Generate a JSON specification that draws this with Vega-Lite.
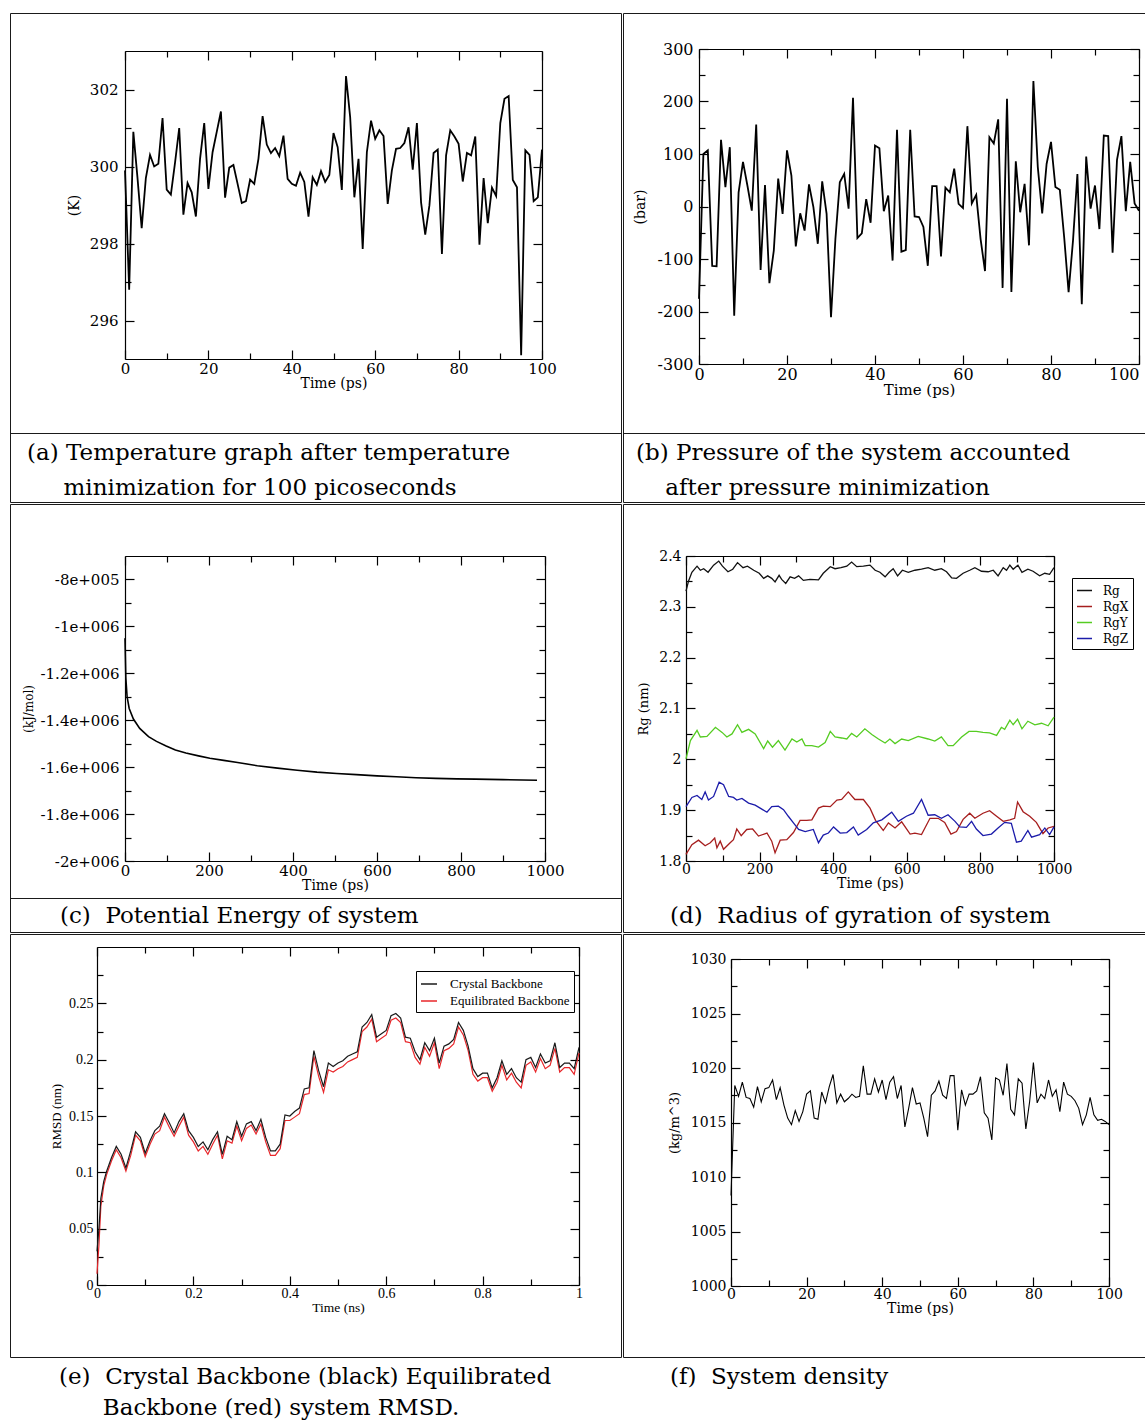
{
"$schema": "https://vega.github.io/schema/vega-lite/v6.json",
"background": "white",
"padding": {"left": 9, "top": 12, "right": 0, "bottom": 0},
"spacing": 0,
"resolve": {"scale": {"color": "independent"}, "legend": {"color": "independent"}},
"config": {
 "view": {"stroke": "#1a1a1a", "strokeWidth": 1},
 "axis": {"grid": false, "domainColor": "black", "domainWidth": 1.2, "tickColor": "black", "tickWidth": 1.2, "labelColor": "black", "titleColor": "black", "labelFont": "DejaVu Serif", "titleFont": "DejaVu Serif", "titleFontWeight": "normal", "labelOverlap": false, "labelFlush": false, "labelBound": false},
 "title": {"font": "DejaVu Serif", "fontSize": 23, "fontWeight": "normal", "color": "black", "anchor": "start", "orient": "bottom"},
 "legend": {"labelColor": "black"}
},
"datasets": {
 "a": [{"t":0,"v":299.9},{"t":1,"v":296.8},{"t":2,"v":300.9},{"t":3,"v":299.7},{"t":4,"v":298.4},{"t":5,"v":299.7},{"t":6,"v":300.3},{"t":7,"v":300.0},{"t":8,"v":300.07},{"t":9,"v":301.26},{"t":10,"v":299.4},{"t":11,"v":299.27},{"t":12,"v":300.1},{"t":13,"v":301.0},{"t":14,"v":298.75},{"t":15,"v":299.57},{"t":16,"v":299.33},{"t":17,"v":298.7},{"t":18,"v":300.2},{"t":19,"v":301.13},{"t":20,"v":299.42},{"t":21,"v":300.37},{"t":22,"v":300.9},{"t":23,"v":301.43},{"t":24,"v":299.19},{"t":25,"v":299.97},{"t":26,"v":300.04},{"t":27,"v":299.55},{"t":28,"v":299.05},{"t":29,"v":299.1},{"t":30,"v":299.66},{"t":31,"v":299.55},{"t":32,"v":300.2},{"t":33,"v":301.31},{"t":34,"v":300.57},{"t":35,"v":300.35},{"t":36,"v":300.48},{"t":37,"v":300.27},{"t":38,"v":300.8},{"t":39,"v":299.68},{"t":40,"v":299.55},{"t":41,"v":299.5},{"t":42,"v":299.84},{"t":43,"v":299.6},{"t":44,"v":298.7},{"t":45,"v":299.72},{"t":46,"v":299.52},{"t":47,"v":299.88},{"t":48,"v":299.6},{"t":49,"v":299.78},{"t":50,"v":300.87},{"t":51,"v":300.5},{"t":52,"v":299.39},{"t":53,"v":302.35},{"t":54,"v":301.28},{"t":55,"v":299.2},{"t":56,"v":300.2},{"t":57,"v":297.86},{"t":58,"v":300.37},{"t":59,"v":301.19},{"t":60,"v":300.72},{"t":61,"v":300.94},{"t":62,"v":300.79},{"t":63,"v":299.03},{"t":64,"v":299.9},{"t":65,"v":300.46},{"t":66,"v":300.48},{"t":67,"v":300.61},{"t":68,"v":301.02},{"t":69,"v":299.92},{"t":70,"v":301.13},{"t":71,"v":299.07},{"t":72,"v":298.23},{"t":73,"v":298.99},{"t":74,"v":300.35},{"t":75,"v":300.44},{"t":76,"v":297.73},{"t":77,"v":300.29},{"t":78,"v":300.94},{"t":79,"v":300.78},{"t":80,"v":300.59},{"t":81,"v":299.61},{"t":82,"v":300.35},{"t":83,"v":300.29},{"t":84,"v":300.78},{"t":85,"v":297.97},{"t":86,"v":299.7},{"t":87,"v":298.53},{"t":88,"v":299.45},{"t":89,"v":299.23},{"t":90,"v":301.13},{"t":91,"v":301.76},{"t":92,"v":301.83},{"t":93,"v":299.65},{"t":94,"v":299.46},{"t":95,"v":295.1},{"t":96,"v":300.42},{"t":97,"v":300.3},{"t":98,"v":299.1},{"t":99,"v":299.2},{"t":100,"v":300.44}],
 "b": [{"t":0,"v":-176},{"t":1,"v":100},{"t":2,"v":107},{"t":3,"v":-113},{"t":4,"v":-114},{"t":5,"v":127},{"t":6,"v":37},{"t":7,"v":113},{"t":8,"v":-208},{"t":9,"v":27},{"t":10,"v":85},{"t":11,"v":40},{"t":12,"v":-8},{"t":13,"v":156},{"t":14,"v":-121},{"t":15,"v":41},{"t":16,"v":-146},{"t":17,"v":-84},{"t":18,"v":53},{"t":19,"v":-14},{"t":20,"v":107},{"t":21,"v":59},{"t":22,"v":-76},{"t":23,"v":-13},{"t":24,"v":-46},{"t":25,"v":42},{"t":26,"v":-1},{"t":27,"v":-71},{"t":28,"v":48},{"t":29,"v":-14},{"t":30,"v":-211},{"t":31,"v":-62},{"t":32,"v":46},{"t":33,"v":62},{"t":34,"v":-4},{"t":35,"v":207},{"t":36,"v":-60},{"t":37,"v":-51},{"t":38,"v":14},{"t":39,"v":-31},{"t":40,"v":116},{"t":41,"v":111},{"t":42,"v":-9},{"t":43,"v":21},{"t":44,"v":-103},{"t":45,"v":146},{"t":46,"v":-86},{"t":47,"v":-83},{"t":48,"v":146},{"t":49,"v":-19},{"t":50,"v":-20},{"t":51,"v":-39},{"t":52,"v":-113},{"t":53,"v":39},{"t":54,"v":39},{"t":55,"v":-95},{"t":56,"v":36},{"t":57,"v":27},{"t":58,"v":72},{"t":59,"v":5},{"t":60,"v":-3},{"t":61,"v":153},{"t":62,"v":6},{"t":63,"v":22},{"t":64,"v":-62},{"t":65,"v":-123},{"t":66,"v":132},{"t":67,"v":120},{"t":68,"v":166},{"t":69,"v":-155},{"t":70,"v":205},{"t":71,"v":-163},{"t":72,"v":86},{"t":73,"v":-11},{"t":74,"v":43},{"t":75,"v":-74},{"t":76,"v":239},{"t":77,"v":75},{"t":78,"v":-13},{"t":79,"v":81},{"t":80,"v":123},{"t":81,"v":37},{"t":82,"v":32},{"t":83,"v":-59},{"t":84,"v":-163},{"t":85,"v":-65},{"t":86,"v":62},{"t":87,"v":-186},{"t":88,"v":95},{"t":89,"v":-4},{"t":90,"v":40},{"t":91,"v":-43},{"t":92,"v":135},{"t":93,"v":134},{"t":94,"v":-88},{"t":95,"v":89},{"t":96,"v":134},{"t":97,"v":-9},{"t":98,"v":85},{"t":99,"v":6},{"t":100,"v":-8}],
 "c": [{"t":0,"v":-1050000},{"t":2,"v":-1220000},{"t":5,"v":-1300000},{"t":10,"v":-1350000},{"t":20,"v":-1395000},{"t":35,"v":-1435000},{"t":56,"v":-1470000},{"t":75,"v":-1490000},{"t":98,"v":-1510000},{"t":120,"v":-1527000},{"t":145,"v":-1540000},{"t":175,"v":-1552000},{"t":202,"v":-1562000},{"t":235,"v":-1571000},{"t":268,"v":-1580000},{"t":315,"v":-1594000},{"t":363,"v":-1604000},{"t":410,"v":-1613000},{"t":457,"v":-1621000},{"t":504,"v":-1627000},{"t":551,"v":-1632000},{"t":600,"v":-1637000},{"t":646,"v":-1641000},{"t":693,"v":-1645000},{"t":740,"v":-1648000},{"t":790,"v":-1650000},{"t":835,"v":-1651000},{"t":900,"v":-1653000},{"t":981,"v":-1656000}],
 "d": [
  {"s":"Rg","t":0,"v":2.331},{"s":"Rg","t":7,"v":2.351},{"s":"Rg","t":16,"v":2.368},{"s":"Rg","t":30,"v":2.38},{"s":"Rg","t":39,"v":2.372},{"s":"Rg","t":48,"v":2.375},{"s":"Rg","t":60,"v":2.368},{"s":"Rg","t":75,"v":2.382},{"s":"Rg","t":89,"v":2.39},{"s":"Rg","t":99,"v":2.38},{"s":"Rg","t":114,"v":2.369},{"s":"Rg","t":127,"v":2.374},{"s":"Rg","t":140,"v":2.387},{"s":"Rg","t":155,"v":2.377},{"s":"Rg","t":167,"v":2.38},{"s":"Rg","t":184,"v":2.372},{"s":"Rg","t":199,"v":2.366},{"s":"Rg","t":211,"v":2.356},{"s":"Rg","t":222,"v":2.361},{"s":"Rg","t":233,"v":2.356},{"s":"Rg","t":242,"v":2.349},{"s":"Rg","t":253,"v":2.362},{"s":"Rg","t":260,"v":2.354},{"s":"Rg","t":271,"v":2.346},{"s":"Rg","t":283,"v":2.359},{"s":"Rg","t":295,"v":2.356},{"s":"Rg","t":306,"v":2.361},{"s":"Rg","t":319,"v":2.352},{"s":"Rg","t":337,"v":2.354},{"s":"Rg","t":360,"v":2.353},{"s":"Rg","t":373,"v":2.366},{"s":"Rg","t":392,"v":2.379},{"s":"Rg","t":405,"v":2.375},{"s":"Rg","t":421,"v":2.377},{"s":"Rg","t":437,"v":2.38},{"s":"Rg","t":450,"v":2.388},{"s":"Rg","t":464,"v":2.379},{"s":"Rg","t":482,"v":2.38},{"s":"Rg","t":500,"v":2.382},{"s":"Rg","t":514,"v":2.372},{"s":"Rg","t":527,"v":2.368},{"s":"Rg","t":541,"v":2.359},{"s":"Rg","t":552,"v":2.368},{"s":"Rg","t":563,"v":2.375},{"s":"Rg","t":575,"v":2.361},{"s":"Rg","t":588,"v":2.372},{"s":"Rg","t":604,"v":2.368},{"s":"Rg","t":622,"v":2.372},{"s":"Rg","t":640,"v":2.374},{"s":"Rg","t":658,"v":2.377},{"s":"Rg","t":676,"v":2.372},{"s":"Rg","t":694,"v":2.375},{"s":"Rg","t":708,"v":2.369},{"s":"Rg","t":722,"v":2.357},{"s":"Rg","t":735,"v":2.356},{"s":"Rg","t":753,"v":2.366},{"s":"Rg","t":771,"v":2.372},{"s":"Rg","t":785,"v":2.377},{"s":"Rg","t":803,"v":2.37},{"s":"Rg","t":821,"v":2.369},{"s":"Rg","t":835,"v":2.372},{"s":"Rg","t":848,"v":2.361},{"s":"Rg","t":862,"v":2.377},{"s":"Rg","t":871,"v":2.372},{"s":"Rg","t":880,"v":2.382},{"s":"Rg","t":889,"v":2.374},{"s":"Rg","t":902,"v":2.382},{"s":"Rg","t":913,"v":2.368},{"s":"Rg","t":929,"v":2.374},{"s":"Rg","t":943,"v":2.37},{"s":"Rg","t":961,"v":2.361},{"s":"Rg","t":975,"v":2.366},{"s":"Rg","t":988,"v":2.364},{"s":"Rg","t":1000,"v":2.377},
  {"s":"RgX","t":0,"v":1.813},{"s":"RgX","t":16,"v":1.832},{"s":"RgX","t":34,"v":1.841},{"s":"RgX","t":52,"v":1.83},{"s":"RgX","t":66,"v":1.836},{"s":"RgX","t":78,"v":1.845},{"s":"RgX","t":84,"v":1.826},{"s":"RgX","t":93,"v":1.839},{"s":"RgX","t":102,"v":1.823},{"s":"RgX","t":120,"v":1.836},{"s":"RgX","t":129,"v":1.842},{"s":"RgX","t":138,"v":1.863},{"s":"RgX","t":150,"v":1.85},{"s":"RgX","t":165,"v":1.862},{"s":"RgX","t":181,"v":1.863},{"s":"RgX","t":197,"v":1.849},{"s":"RgX","t":220,"v":1.855},{"s":"RgX","t":233,"v":1.839},{"s":"RgX","t":242,"v":1.816},{"s":"RgX","t":256,"v":1.841},{"s":"RgX","t":274,"v":1.842},{"s":"RgX","t":292,"v":1.856},{"s":"RgX","t":310,"v":1.88},{"s":"RgX","t":328,"v":1.88},{"s":"RgX","t":342,"v":1.881},{"s":"RgX","t":360,"v":1.904},{"s":"RgX","t":373,"v":1.908},{"s":"RgX","t":392,"v":1.907},{"s":"RgX","t":410,"v":1.92},{"s":"RgX","t":423,"v":1.921},{"s":"RgX","t":441,"v":1.936},{"s":"RgX","t":459,"v":1.921},{"s":"RgX","t":482,"v":1.921},{"s":"RgX","t":500,"v":1.904},{"s":"RgX","t":515,"v":1.88},{"s":"RgX","t":536,"v":1.86},{"s":"RgX","t":550,"v":1.875},{"s":"RgX","t":568,"v":1.865},{"s":"RgX","t":586,"v":1.877},{"s":"RgX","t":609,"v":1.853},{"s":"RgX","t":622,"v":1.855},{"s":"RgX","t":640,"v":1.852},{"s":"RgX","t":663,"v":1.884},{"s":"RgX","t":685,"v":1.884},{"s":"RgX","t":703,"v":1.876},{"s":"RgX","t":720,"v":1.853},{"s":"RgX","t":735,"v":1.858},{"s":"RgX","t":753,"v":1.882},{"s":"RgX","t":771,"v":1.894},{"s":"RgX","t":785,"v":1.884},{"s":"RgX","t":807,"v":1.894},{"s":"RgX","t":825,"v":1.899},{"s":"RgX","t":844,"v":1.888},{"s":"RgX","t":862,"v":1.878},{"s":"RgX","t":880,"v":1.881},{"s":"RgX","t":893,"v":1.884},{"s":"RgX","t":901,"v":1.916},{"s":"RgX","t":916,"v":1.897},{"s":"RgX","t":934,"v":1.888},{"s":"RgX","t":952,"v":1.876},{"s":"RgX","t":970,"v":1.854},{"s":"RgX","t":984,"v":1.865},{"s":"RgX","t":1000,"v":1.868},
  {"s":"RgY","t":0,"v":2.001},{"s":"RgY","t":12,"v":2.037},{"s":"RgY","t":30,"v":2.057},{"s":"RgY","t":39,"v":2.044},{"s":"RgY","t":57,"v":2.045},{"s":"RgY","t":80,"v":2.063},{"s":"RgY","t":98,"v":2.053},{"s":"RgY","t":111,"v":2.044},{"s":"RgY","t":125,"v":2.05},{"s":"RgY","t":140,"v":2.068},{"s":"RgY","t":152,"v":2.053},{"s":"RgY","t":170,"v":2.059},{"s":"RgY","t":188,"v":2.05},{"s":"RgY","t":211,"v":2.021},{"s":"RgY","t":222,"v":2.036},{"s":"RgY","t":235,"v":2.024},{"s":"RgY","t":251,"v":2.037},{"s":"RgY","t":269,"v":2.018},{"s":"RgY","t":288,"v":2.04},{"s":"RgY","t":301,"v":2.034},{"s":"RgY","t":315,"v":2.04},{"s":"RgY","t":324,"v":2.027},{"s":"RgY","t":342,"v":2.027},{"s":"RgY","t":360,"v":2.024},{"s":"RgY","t":378,"v":2.033},{"s":"RgY","t":392,"v":2.055},{"s":"RgY","t":405,"v":2.044},{"s":"RgY","t":423,"v":2.042},{"s":"RgY","t":437,"v":2.04},{"s":"RgY","t":450,"v":2.051},{"s":"RgY","t":464,"v":2.044},{"s":"RgY","t":486,"v":2.06},{"s":"RgY","t":505,"v":2.049},{"s":"RgY","t":523,"v":2.04},{"s":"RgY","t":541,"v":2.032},{"s":"RgY","t":554,"v":2.04},{"s":"RgY","t":568,"v":2.031},{"s":"RgY","t":586,"v":2.04},{"s":"RgY","t":604,"v":2.037},{"s":"RgY","t":631,"v":2.045},{"s":"RgY","t":658,"v":2.04},{"s":"RgY","t":676,"v":2.036},{"s":"RgY","t":694,"v":2.044},{"s":"RgY","t":712,"v":2.027},{"s":"RgY","t":726,"v":2.027},{"s":"RgY","t":749,"v":2.044},{"s":"RgY","t":769,"v":2.055},{"s":"RgY","t":789,"v":2.055},{"s":"RgY","t":807,"v":2.053},{"s":"RgY","t":825,"v":2.052},{"s":"RgY","t":844,"v":2.047},{"s":"RgY","t":857,"v":2.063},{"s":"RgY","t":866,"v":2.059},{"s":"RgY","t":880,"v":2.077},{"s":"RgY","t":889,"v":2.068},{"s":"RgY","t":901,"v":2.079},{"s":"RgY","t":913,"v":2.06},{"s":"RgY","t":929,"v":2.075},{"s":"RgY","t":948,"v":2.068},{"s":"RgY","t":966,"v":2.071},{"s":"RgY","t":984,"v":2.066},{"s":"RgY","t":1000,"v":2.083},
  {"s":"RgZ","t":0,"v":1.907},{"s":"RgZ","t":16,"v":1.925},{"s":"RgZ","t":30,"v":1.929},{"s":"RgZ","t":43,"v":1.921},{"s":"RgZ","t":52,"v":1.936},{"s":"RgZ","t":61,"v":1.92},{"s":"RgZ","t":75,"v":1.927},{"s":"RgZ","t":90,"v":1.955},{"s":"RgZ","t":102,"v":1.95},{"s":"RgZ","t":116,"v":1.927},{"s":"RgZ","t":129,"v":1.925},{"s":"RgZ","t":138,"v":1.92},{"s":"RgZ","t":152,"v":1.923},{"s":"RgZ","t":170,"v":1.914},{"s":"RgZ","t":188,"v":1.91},{"s":"RgZ","t":206,"v":1.902},{"s":"RgZ","t":220,"v":1.896},{"s":"RgZ","t":233,"v":1.907},{"s":"RgZ","t":251,"v":1.908},{"s":"RgZ","t":265,"v":1.901},{"s":"RgZ","t":278,"v":1.888},{"s":"RgZ","t":292,"v":1.875},{"s":"RgZ","t":306,"v":1.862},{"s":"RgZ","t":324,"v":1.858},{"s":"RgZ","t":346,"v":1.862},{"s":"RgZ","t":360,"v":1.836},{"s":"RgZ","t":373,"v":1.851},{"s":"RgZ","t":387,"v":1.855},{"s":"RgZ","t":401,"v":1.867},{"s":"RgZ","t":419,"v":1.855},{"s":"RgZ","t":437,"v":1.856},{"s":"RgZ","t":455,"v":1.867},{"s":"RgZ","t":468,"v":1.851},{"s":"RgZ","t":491,"v":1.862},{"s":"RgZ","t":509,"v":1.875},{"s":"RgZ","t":532,"v":1.881},{"s":"RgZ","t":559,"v":1.896},{"s":"RgZ","t":577,"v":1.878},{"s":"RgZ","t":599,"v":1.888},{"s":"RgZ","t":618,"v":1.894},{"s":"RgZ","t":640,"v":1.921},{"s":"RgZ","t":658,"v":1.89},{"s":"RgZ","t":676,"v":1.891},{"s":"RgZ","t":694,"v":1.884},{"s":"RgZ","t":712,"v":1.891},{"s":"RgZ","t":731,"v":1.878},{"s":"RgZ","t":744,"v":1.867},{"s":"RgZ","t":762,"v":1.866},{"s":"RgZ","t":776,"v":1.878},{"s":"RgZ","t":789,"v":1.863},{"s":"RgZ","t":807,"v":1.85},{"s":"RgZ","t":830,"v":1.853},{"s":"RgZ","t":848,"v":1.865},{"s":"RgZ","t":866,"v":1.876},{"s":"RgZ","t":884,"v":1.874},{"s":"RgZ","t":898,"v":1.837},{"s":"RgZ","t":911,"v":1.839},{"s":"RgZ","t":929,"v":1.86},{"s":"RgZ","t":939,"v":1.847},{"s":"RgZ","t":961,"v":1.852},{"s":"RgZ","t":975,"v":1.865},{"s":"RgZ","t":988,"v":1.852},{"s":"RgZ","t":1000,"v":1.867}
 ],
 "e": [
  {"s":"Equilibrated Backbone","t":0,"v":0.01},{"s":"Equilibrated Backbone","t":0.004,"v":0.035},{"s":"Equilibrated Backbone","t":0.008,"v":0.07},{"s":"Equilibrated Backbone","t":0.014,"v":0.088},{"s":"Equilibrated Backbone","t":0.02,"v":0.098},{"s":"Equilibrated Backbone","t":0.03,"v":0.11},{"s":"Equilibrated Backbone","t":0.04,"v":0.12},{"s":"Equilibrated Backbone","t":0.05,"v":0.113},{"s":"Equilibrated Backbone","t":0.06,"v":0.101},{"s":"Equilibrated Backbone","t":0.07,"v":0.115},{"s":"Equilibrated Backbone","t":0.08,"v":0.133},{"s":"Equilibrated Backbone","t":0.09,"v":0.128},{"s":"Equilibrated Backbone","t":0.1,"v":0.114},{"s":"Equilibrated Backbone","t":0.11,"v":0.125},{"s":"Equilibrated Backbone","t":0.12,"v":0.134},{"s":"Equilibrated Backbone","t":0.13,"v":0.137},{"s":"Equilibrated Backbone","t":0.14,"v":0.149},{"s":"Equilibrated Backbone","t":0.15,"v":0.14},{"s":"Equilibrated Backbone","t":0.16,"v":0.132},{"s":"Equilibrated Backbone","t":0.17,"v":0.141},{"s":"Equilibrated Backbone","t":0.18,"v":0.149},{"s":"Equilibrated Backbone","t":0.19,"v":0.133},{"s":"Equilibrated Backbone","t":0.2,"v":0.127},{"s":"Equilibrated Backbone","t":0.21,"v":0.119},{"s":"Equilibrated Backbone","t":0.22,"v":0.123},{"s":"Equilibrated Backbone","t":0.23,"v":0.116},{"s":"Equilibrated Backbone","t":0.24,"v":0.125},{"s":"Equilibrated Backbone","t":0.25,"v":0.133},{"s":"Equilibrated Backbone","t":0.26,"v":0.112},{"s":"Equilibrated Backbone","t":0.27,"v":0.128},{"s":"Equilibrated Backbone","t":0.28,"v":0.126},{"s":"Equilibrated Backbone","t":0.29,"v":0.141},{"s":"Equilibrated Backbone","t":0.3,"v":0.128},{"s":"Equilibrated Backbone","t":0.31,"v":0.139},{"s":"Equilibrated Backbone","t":0.32,"v":0.142},{"s":"Equilibrated Backbone","t":0.33,"v":0.134},{"s":"Equilibrated Backbone","t":0.34,"v":0.143},{"s":"Equilibrated Backbone","t":0.35,"v":0.127},{"s":"Equilibrated Backbone","t":0.36,"v":0.115},{"s":"Equilibrated Backbone","t":0.37,"v":0.115},{"s":"Equilibrated Backbone","t":0.38,"v":0.121},{"s":"Equilibrated Backbone","t":0.39,"v":0.146},{"s":"Equilibrated Backbone","t":0.4,"v":0.146},{"s":"Equilibrated Backbone","t":0.41,"v":0.149},{"s":"Equilibrated Backbone","t":0.42,"v":0.152},{"s":"Equilibrated Backbone","t":0.43,"v":0.169},{"s":"Equilibrated Backbone","t":0.44,"v":0.17},{"s":"Equilibrated Backbone","t":0.45,"v":0.203},{"s":"Equilibrated Backbone","t":0.46,"v":0.185},{"s":"Equilibrated Backbone","t":0.47,"v":0.171},{"s":"Equilibrated Backbone","t":0.48,"v":0.191},{"s":"Equilibrated Backbone","t":0.49,"v":0.189},{"s":"Equilibrated Backbone","t":0.5,"v":0.192},{"s":"Equilibrated Backbone","t":0.51,"v":0.194},{"s":"Equilibrated Backbone","t":0.52,"v":0.198},{"s":"Equilibrated Backbone","t":0.53,"v":0.2},{"s":"Equilibrated Backbone","t":0.54,"v":0.202},{"s":"Equilibrated Backbone","t":0.55,"v":0.225},{"s":"Equilibrated Backbone","t":0.56,"v":0.229},{"s":"Equilibrated Backbone","t":0.57,"v":0.236},{"s":"Equilibrated Backbone","t":0.58,"v":0.216},{"s":"Equilibrated Backbone","t":0.59,"v":0.219},{"s":"Equilibrated Backbone","t":0.6,"v":0.222},{"s":"Equilibrated Backbone","t":0.61,"v":0.235},{"s":"Equilibrated Backbone","t":0.62,"v":0.237},{"s":"Equilibrated Backbone","t":0.63,"v":0.233},{"s":"Equilibrated Backbone","t":0.64,"v":0.216},{"s":"Equilibrated Backbone","t":0.65,"v":0.215},{"s":"Equilibrated Backbone","t":0.66,"v":0.202},{"s":"Equilibrated Backbone","t":0.67,"v":0.196},{"s":"Equilibrated Backbone","t":0.68,"v":0.211},{"s":"Equilibrated Backbone","t":0.69,"v":0.203},{"s":"Equilibrated Backbone","t":0.7,"v":0.215},{"s":"Equilibrated Backbone","t":0.71,"v":0.192},{"s":"Equilibrated Backbone","t":0.72,"v":0.208},{"s":"Equilibrated Backbone","t":0.73,"v":0.21},{"s":"Equilibrated Backbone","t":0.74,"v":0.214},{"s":"Equilibrated Backbone","t":0.75,"v":0.229},{"s":"Equilibrated Backbone","t":0.76,"v":0.222},{"s":"Equilibrated Backbone","t":0.77,"v":0.208},{"s":"Equilibrated Backbone","t":0.78,"v":0.187},{"s":"Equilibrated Backbone","t":0.79,"v":0.181},{"s":"Equilibrated Backbone","t":0.8,"v":0.184},{"s":"Equilibrated Backbone","t":0.81,"v":0.184},{"s":"Equilibrated Backbone","t":0.82,"v":0.172},{"s":"Equilibrated Backbone","t":0.83,"v":0.18},{"s":"Equilibrated Backbone","t":0.84,"v":0.195},{"s":"Equilibrated Backbone","t":0.85,"v":0.182},{"s":"Equilibrated Backbone","t":0.86,"v":0.188},{"s":"Equilibrated Backbone","t":0.87,"v":0.18},{"s":"Equilibrated Backbone","t":0.88,"v":0.175},{"s":"Equilibrated Backbone","t":0.89,"v":0.195},{"s":"Equilibrated Backbone","t":0.9,"v":0.198},{"s":"Equilibrated Backbone","t":0.91,"v":0.189},{"s":"Equilibrated Backbone","t":0.92,"v":0.201},{"s":"Equilibrated Backbone","t":0.93,"v":0.192},{"s":"Equilibrated Backbone","t":0.94,"v":0.195},{"s":"Equilibrated Backbone","t":0.95,"v":0.21},{"s":"Equilibrated Backbone","t":0.96,"v":0.189},{"s":"Equilibrated Backbone","t":0.97,"v":0.193},{"s":"Equilibrated Backbone","t":0.98,"v":0.193},{"s":"Equilibrated Backbone","t":0.99,"v":0.187},{"s":"Equilibrated Backbone","t":1.0,"v":0.206},
  {"s":"Crystal Backbone","t":0,"v":0.03},{"s":"Crystal Backbone","t":0.004,"v":0.05},{"s":"Crystal Backbone","t":0.008,"v":0.077},{"s":"Crystal Backbone","t":0.014,"v":0.092},{"s":"Crystal Backbone","t":0.02,"v":0.101},{"s":"Crystal Backbone","t":0.03,"v":0.113},{"s":"Crystal Backbone","t":0.04,"v":0.123},{"s":"Crystal Backbone","t":0.05,"v":0.116},{"s":"Crystal Backbone","t":0.06,"v":0.104},{"s":"Crystal Backbone","t":0.07,"v":0.119},{"s":"Crystal Backbone","t":0.08,"v":0.136},{"s":"Crystal Backbone","t":0.09,"v":0.131},{"s":"Crystal Backbone","t":0.1,"v":0.117},{"s":"Crystal Backbone","t":0.11,"v":0.128},{"s":"Crystal Backbone","t":0.12,"v":0.137},{"s":"Crystal Backbone","t":0.13,"v":0.141},{"s":"Crystal Backbone","t":0.14,"v":0.152},{"s":"Crystal Backbone","t":0.15,"v":0.144},{"s":"Crystal Backbone","t":0.16,"v":0.135},{"s":"Crystal Backbone","t":0.17,"v":0.145},{"s":"Crystal Backbone","t":0.18,"v":0.152},{"s":"Crystal Backbone","t":0.19,"v":0.137},{"s":"Crystal Backbone","t":0.2,"v":0.131},{"s":"Crystal Backbone","t":0.21,"v":0.123},{"s":"Crystal Backbone","t":0.22,"v":0.127},{"s":"Crystal Backbone","t":0.23,"v":0.12},{"s":"Crystal Backbone","t":0.24,"v":0.129},{"s":"Crystal Backbone","t":0.25,"v":0.136},{"s":"Crystal Backbone","t":0.26,"v":0.116},{"s":"Crystal Backbone","t":0.27,"v":0.132},{"s":"Crystal Backbone","t":0.28,"v":0.129},{"s":"Crystal Backbone","t":0.29,"v":0.145},{"s":"Crystal Backbone","t":0.3,"v":0.132},{"s":"Crystal Backbone","t":0.31,"v":0.143},{"s":"Crystal Backbone","t":0.32,"v":0.145},{"s":"Crystal Backbone","t":0.33,"v":0.137},{"s":"Crystal Backbone","t":0.34,"v":0.147},{"s":"Crystal Backbone","t":0.35,"v":0.131},{"s":"Crystal Backbone","t":0.36,"v":0.119},{"s":"Crystal Backbone","t":0.37,"v":0.119},{"s":"Crystal Backbone","t":0.38,"v":0.125},{"s":"Crystal Backbone","t":0.39,"v":0.151},{"s":"Crystal Backbone","t":0.4,"v":0.15},{"s":"Crystal Backbone","t":0.41,"v":0.154},{"s":"Crystal Backbone","t":0.42,"v":0.157},{"s":"Crystal Backbone","t":0.43,"v":0.174},{"s":"Crystal Backbone","t":0.44,"v":0.175},{"s":"Crystal Backbone","t":0.45,"v":0.208},{"s":"Crystal Backbone","t":0.46,"v":0.19},{"s":"Crystal Backbone","t":0.47,"v":0.176},{"s":"Crystal Backbone","t":0.48,"v":0.197},{"s":"Crystal Backbone","t":0.49,"v":0.194},{"s":"Crystal Backbone","t":0.5,"v":0.197},{"s":"Crystal Backbone","t":0.51,"v":0.199},{"s":"Crystal Backbone","t":0.52,"v":0.203},{"s":"Crystal Backbone","t":0.53,"v":0.205},{"s":"Crystal Backbone","t":0.54,"v":0.207},{"s":"Crystal Backbone","t":0.55,"v":0.229},{"s":"Crystal Backbone","t":0.56,"v":0.233},{"s":"Crystal Backbone","t":0.57,"v":0.24},{"s":"Crystal Backbone","t":0.58,"v":0.22},{"s":"Crystal Backbone","t":0.59,"v":0.223},{"s":"Crystal Backbone","t":0.6,"v":0.226},{"s":"Crystal Backbone","t":0.61,"v":0.239},{"s":"Crystal Backbone","t":0.62,"v":0.241},{"s":"Crystal Backbone","t":0.63,"v":0.237},{"s":"Crystal Backbone","t":0.64,"v":0.22},{"s":"Crystal Backbone","t":0.65,"v":0.219},{"s":"Crystal Backbone","t":0.66,"v":0.207},{"s":"Crystal Backbone","t":0.67,"v":0.2},{"s":"Crystal Backbone","t":0.68,"v":0.215},{"s":"Crystal Backbone","t":0.69,"v":0.208},{"s":"Crystal Backbone","t":0.7,"v":0.219},{"s":"Crystal Backbone","t":0.71,"v":0.197},{"s":"Crystal Backbone","t":0.72,"v":0.212},{"s":"Crystal Backbone","t":0.73,"v":0.214},{"s":"Crystal Backbone","t":0.74,"v":0.218},{"s":"Crystal Backbone","t":0.75,"v":0.233},{"s":"Crystal Backbone","t":0.76,"v":0.226},{"s":"Crystal Backbone","t":0.77,"v":0.212},{"s":"Crystal Backbone","t":0.78,"v":0.192},{"s":"Crystal Backbone","t":0.79,"v":0.185},{"s":"Crystal Backbone","t":0.8,"v":0.188},{"s":"Crystal Backbone","t":0.81,"v":0.188},{"s":"Crystal Backbone","t":0.82,"v":0.175},{"s":"Crystal Backbone","t":0.83,"v":0.184},{"s":"Crystal Backbone","t":0.84,"v":0.199},{"s":"Crystal Backbone","t":0.85,"v":0.187},{"s":"Crystal Backbone","t":0.86,"v":0.192},{"s":"Crystal Backbone","t":0.87,"v":0.184},{"s":"Crystal Backbone","t":0.88,"v":0.18},{"s":"Crystal Backbone","t":0.89,"v":0.2},{"s":"Crystal Backbone","t":0.9,"v":0.202},{"s":"Crystal Backbone","t":0.91,"v":0.193},{"s":"Crystal Backbone","t":0.92,"v":0.205},{"s":"Crystal Backbone","t":0.93,"v":0.197},{"s":"Crystal Backbone","t":0.94,"v":0.199},{"s":"Crystal Backbone","t":0.95,"v":0.215},{"s":"Crystal Backbone","t":0.96,"v":0.193},{"s":"Crystal Backbone","t":0.97,"v":0.197},{"s":"Crystal Backbone","t":0.98,"v":0.197},{"s":"Crystal Backbone","t":0.99,"v":0.192},{"s":"Crystal Backbone","t":1.0,"v":0.211}
 ],
 "f": [{"t":0,"v":1008.3},{"t":0.5,"v":1013.4},{"t":1,"v":1018.4},{"t":2,"v":1017.4},{"t":3,"v":1018.7},{"t":4,"v":1017.3},{"t":5,"v":1017.2},{"t":6,"v":1016.4},{"t":7,"v":1018.3},{"t":8,"v":1016.9},{"t":9,"v":1018.1},{"t":10,"v":1018.2},{"t":11,"v":1018.9},{"t":12,"v":1017.1},{"t":13,"v":1018.2},{"t":14,"v":1016.6},{"t":15,"v":1015.4},{"t":16,"v":1014.8},{"t":17,"v":1016.1},{"t":18,"v":1015.1},{"t":19,"v":1016.0},{"t":20,"v":1017.6},{"t":21,"v":1017.9},{"t":22,"v":1015.4},{"t":23,"v":1015.3},{"t":24,"v":1017.8},{"t":25,"v":1016.8},{"t":26,"v":1018.3},{"t":27,"v":1019.4},{"t":28,"v":1016.8},{"t":29,"v":1017.6},{"t":30,"v":1016.9},{"t":31,"v":1017.2},{"t":32,"v":1017.6},{"t":33,"v":1017.3},{"t":34,"v":1017.4},{"t":35,"v":1020.2},{"t":36,"v":1017.6},{"t":37,"v":1017.6},{"t":38,"v":1019.0},{"t":39,"v":1017.8},{"t":40,"v":1018.9},{"t":41,"v":1017.1},{"t":42,"v":1018.7},{"t":43,"v":1019.2},{"t":44,"v":1017.2},{"t":45,"v":1018.4},{"t":46,"v":1014.6},{"t":47,"v":1016.3},{"t":48,"v":1018.2},{"t":49,"v":1016.7},{"t":50,"v":1016.8},{"t":51,"v":1015.4},{"t":52,"v":1013.7},{"t":53,"v":1017.5},{"t":54,"v":1017.9},{"t":55,"v":1018.8},{"t":56,"v":1017.5},{"t":57,"v":1017.2},{"t":58,"v":1019.3},{"t":59,"v":1019.3},{"t":60,"v":1014.3},{"t":61,"v":1018.0},{"t":62,"v":1016.6},{"t":63,"v":1017.6},{"t":64,"v":1017.6},{"t":65,"v":1017.9},{"t":66,"v":1019.2},{"t":67,"v":1015.9},{"t":68,"v":1015.4},{"t":69,"v":1013.4},{"t":70,"v":1019.1},{"t":71,"v":1018.9},{"t":72,"v":1017.5},{"t":73,"v":1020.4},{"t":74,"v":1016.2},{"t":75,"v":1015.7},{"t":76,"v":1019.0},{"t":77,"v":1018.6},{"t":78,"v":1014.4},{"t":79,"v":1016.9},{"t":80,"v":1020.5},{"t":81,"v":1016.8},{"t":82,"v":1017.6},{"t":83,"v":1017.2},{"t":84,"v":1018.9},{"t":85,"v":1017.4},{"t":86,"v":1018.0},{"t":87,"v":1016.0},{"t":88,"v":1018.7},{"t":89,"v":1017.6},{"t":90,"v":1017.4},{"t":91,"v":1017.0},{"t":92,"v":1016.3},{"t":93,"v":1014.8},{"t":94,"v":1015.7},{"t":95,"v":1017.3},{"t":96,"v":1015.7},{"t":97,"v":1015.2},{"t":98,"v":1015.3},{"t":99,"v":1015.1},{"t":100,"v":1014.8}]
},
"vconcat": [
 {"spacing": 0, "resolve": {"scale": {"color": "independent"}, "legend": {"color": "independent"}}, "hconcat": [
  {"width": 611, "height": 489, "data": {"name": "a"},
   "title": {"text": ["(a) Temperature graph after temperature", "\u200b\u00a0\u00a0\u00a0\u00a0\u00a0minimization for 100 picoseconds"], "offset": -60, "dx": 17, "lineHeight": 35},
   "layer": [
    {"mark": {"type": "line", "color": "black", "strokeWidth": 1.8},
     "encoding": {
      "x": {"field": "t", "type": "quantitative", "scale": {"domain": [0, 100], "range": [115, 532], "nice": false, "zero": false}, "axis": {"orient": "bottom", "offset": -143, "values": [0,20,40,60,80,100], "tickSize": -9, "labelPadding": 11, "labelFontSize": 15, "title": "Time (ps)", "titleFontSize": 14, "titlePadding": 0}},
      "y": {"field": "v", "type": "quantitative", "scale": {"domain": [295, 303], "range": [346, 38], "nice": false, "zero": false}, "axis": {"orient": "left", "offset": -115, "values": [296,298,300,302], "tickSize": -9, "labelPadding": 16, "labelFontSize": 15, "title": "(K)", "titleFontSize": 14, "titlePadding": 8}}}},
    {"mark": {"type": "point", "opacity": 0},
     "encoding": {
      "x": {"field": "t", "type": "quantitative", "scale": {"domain": [0, 100], "range": [115, 532], "nice": false, "zero": false}, "axis": {"orient": "top", "offset": -38, "values": [0,20,40,60,80,100], "tickSize": -9, "labels": false, "title": null}},
      "y": {"field": "v", "type": "quantitative", "scale": {"domain": [295, 303], "range": [346, 38], "nice": false, "zero": false}, "axis": {"orient": "right", "offset": -79, "values": [296,298,300,302], "tickSize": -9, "labels": false, "title": null}}}},
    {"mark": {"type": "point", "opacity": 0},
     "encoding": {
      "x": {"field": "t", "type": "quantitative", "scale": {"domain": [0, 100], "range": [115, 532], "nice": false, "zero": false}, "axis": {"orient": "bottom", "offset": -143, "values": [10,30,50,70,90], "tickSize": -6, "labels": false, "domain": false, "title": null}},
      "y": {"field": "v", "type": "quantitative", "scale": {"domain": [295, 303], "range": [346, 38], "nice": false, "zero": false}, "axis": {"orient": "left", "offset": -115, "values": [297,299,301], "tickSize": -6, "labels": false, "domain": false, "title": null}}}},
    {"mark": {"type": "point", "opacity": 0},
     "encoding": {
      "x": {"field": "t", "type": "quantitative", "scale": {"domain": [0, 100], "range": [115, 532], "nice": false, "zero": false}, "axis": {"orient": "top", "offset": -38, "values": [10,30,50,70,90], "tickSize": -6, "labels": false, "domain": false, "title": null}},
      "y": {"field": "v", "type": "quantitative", "scale": {"domain": [295, 303], "range": [346, 38], "nice": false, "zero": false}, "axis": {"orient": "right", "offset": -79, "values": [297,299,301], "tickSize": -6, "labels": false, "domain": false, "title": null}}}},
    {"mark": {"type": "point", "opacity": 0},
     "encoding": {"x": {"datum": 0.5, "type": "quantitative", "scale": {"domain": [0, 1]}, "axis": {"orient": "bottom", "offset": -69, "ticks": false, "labels": false, "title": null, "domainWidth": 1, "domainColor": "#1a1a1a"}}}}
   ],
   "resolve": {"scale": {"x": "independent"}, "axis": {"x": "independent", "y": "independent"}}},
  {"width": 522, "height": 489, "data": {"name": "b"},
   "title": {"text": ["(b) Pressure of the system accounted", "\u200b\u00a0\u00a0\u00a0\u00a0after pressure minimization"], "offset": -60, "dx": 13, "lineHeight": 35},
   "layer": [
    {"mark": {"type": "line", "color": "black", "strokeWidth": 1.8},
     "encoding": {
      "x": {"field": "t", "type": "quantitative", "scale": {"domain": [0, 100], "range": [76, 516], "nice": false, "zero": false}, "axis": {"orient": "bottom", "offset": -138, "values": [0,20,40,60,80,100], "tickSize": -9, "labelPadding": 11, "labelFontSize": 16, "labelAlign": {"condition": {"test": "datum.value == 100", "value": "right"}, "value": "center"}, "title": "Time (ps)", "titleFontSize": 15, "titlePadding": 0}},
      "y": {"field": "v", "type": "quantitative", "scale": {"domain": [-300, 300], "range": [351, 36], "nice": false, "zero": false}, "axis": {"orient": "left", "offset": -76, "values": [-300,-200,-100,0,100,200,300], "labelExpr": "datum.value + ''", "tickSize": -9, "labelPadding": 15, "labelFontSize": 16, "title": "(bar)", "titleFontSize": 14, "titlePadding": 10}}}},
    {"mark": {"type": "point", "opacity": 0},
     "encoding": {
      "x": {"field": "t", "type": "quantitative", "scale": {"domain": [0, 100], "range": [76, 516], "nice": false, "zero": false}, "axis": {"orient": "top", "offset": -36, "values": [0,20,40,60,80,100], "tickSize": -9, "labels": false, "title": null}},
      "y": {"field": "v", "type": "quantitative", "scale": {"domain": [-300, 300], "range": [351, 36], "nice": false, "zero": false}, "axis": {"orient": "right", "offset": -6, "values": [-300,-200,-100,0,100,200,300], "tickSize": -9, "labels": false, "title": null}}}},
    {"mark": {"type": "point", "opacity": 0},
     "encoding": {
      "x": {"field": "t", "type": "quantitative", "scale": {"domain": [0, 100], "range": [76, 516], "nice": false, "zero": false}, "axis": {"orient": "bottom", "offset": -138, "values": [10,30,50,70,90], "tickSize": -6, "labels": false, "domain": false, "title": null}},
      "y": {"field": "v", "type": "quantitative", "scale": {"domain": [-300, 300], "range": [351, 36], "nice": false, "zero": false}, "axis": {"orient": "left", "offset": -76, "values": [-250,-150,-50,50,150,250], "tickSize": -6, "labels": false, "domain": false, "title": null}}}},
    {"mark": {"type": "point", "opacity": 0},
     "encoding": {
      "x": {"field": "t", "type": "quantitative", "scale": {"domain": [0, 100], "range": [76, 516], "nice": false, "zero": false}, "axis": {"orient": "top", "offset": -36, "values": [10,30,50,70,90], "tickSize": -6, "labels": false, "domain": false, "title": null}},
      "y": {"field": "v", "type": "quantitative", "scale": {"domain": [-300, 300], "range": [351, 36], "nice": false, "zero": false}, "axis": {"orient": "right", "offset": -6, "values": [-250,-150,-50,50,150,250], "tickSize": -6, "labels": false, "domain": false, "title": null}}}},
    {"mark": {"type": "point", "opacity": 0},
     "encoding": {"x": {"datum": 0.5, "type": "quantitative", "scale": {"domain": [0, 1]}, "axis": {"orient": "bottom", "offset": -69, "ticks": false, "labels": false, "title": null, "domainWidth": 1, "domainColor": "#1a1a1a"}}}}
   ],
   "resolve": {"scale": {"x": "independent"}, "axis": {"x": "independent", "y": "independent"}}}
 ]},
 {"spacing": 0, "resolve": {"scale": {"color": "independent"}, "legend": {"color": "independent"}}, "hconcat": [
  {"width": 611, "height": 428, "data": {"name": "c"},
   "title": {"text": "(c)\u00a0 Potential Energy of system", "offset": -27, "dx": 50},
   "layer": [
    {"mark": {"type": "line", "color": "black", "strokeWidth": 1.6},
     "encoding": {
      "x": {"field": "t", "type": "quantitative", "scale": {"domain": [0, 1000], "range": [115, 535], "nice": false, "zero": false}, "axis": {"orient": "bottom", "offset": -71, "values": [0,200,400,600,800,1000], "format": "d", "tickSize": -9, "labelPadding": 11, "labelFontSize": 15, "title": "Time (ps)", "titleFontSize": 14, "titlePadding": 0}},
      "y": {"field": "v", "type": "quantitative", "scale": {"domain": [-2000000, -700000], "range": [357, 52], "nice": false, "zero": false}, "axis": {"orient": "left", "offset": -115, "values": [-2000000,-1800000,-1600000,-1400000,-1200000,-1000000,-800000], "labelExpr": "datum.value > -1000000 ? (datum.value/100000) + 'e+005' : (datum.value/1000000) + 'e+006'", "tickSize": -9, "labelPadding": 15, "labelFontSize": 15, "title": "(kJ/mol)", "titleFontSize": 12, "titlePadding": 5}}}},
    {"mark": {"type": "point", "opacity": 0},
     "encoding": {
      "x": {"field": "t", "type": "quantitative", "scale": {"domain": [0, 1000], "range": [115, 535], "nice": false, "zero": false}, "axis": {"orient": "top", "offset": -52, "values": [0,200,400,600,800,1000], "tickSize": -9, "labels": false, "title": null}},
      "y": {"field": "v", "type": "quantitative", "scale": {"domain": [-2000000, -700000], "range": [357, 52], "nice": false, "zero": false}, "axis": {"orient": "right", "offset": -76, "values": [-2000000,-1800000,-1600000,-1400000,-1200000,-1000000,-800000], "tickSize": -9, "labels": false, "title": null}}}},
    {"mark": {"type": "point", "opacity": 0},
     "encoding": {
      "x": {"field": "t", "type": "quantitative", "scale": {"domain": [0, 1000], "range": [115, 535], "nice": false, "zero": false}, "axis": {"orient": "bottom", "offset": -71, "values": [100,300,500,700,900], "tickSize": -6, "labels": false, "domain": false, "title": null}},
      "y": {"field": "v", "type": "quantitative", "scale": {"domain": [-2000000, -700000], "range": [357, 52], "nice": false, "zero": false}, "axis": {"orient": "left", "offset": -115, "values": [-1900000,-1700000,-1500000,-1300000,-1100000,-900000], "tickSize": -6, "labels": false, "domain": false, "title": null}}}},
    {"mark": {"type": "point", "opacity": 0},
     "encoding": {
      "x": {"field": "t", "type": "quantitative", "scale": {"domain": [0, 1000], "range": [115, 535], "nice": false, "zero": false}, "axis": {"orient": "top", "offset": -52, "values": [100,300,500,700,900], "tickSize": -6, "labels": false, "domain": false, "title": null}},
      "y": {"field": "v", "type": "quantitative", "scale": {"domain": [-2000000, -700000], "range": [357, 52], "nice": false, "zero": false}, "axis": {"orient": "right", "offset": -76, "values": [-1900000,-1700000,-1500000,-1300000,-1100000,-900000], "tickSize": -6, "labels": false, "domain": false, "title": null}}}},
    {"mark": {"type": "point", "opacity": 0},
     "encoding": {"x": {"datum": 0.5, "type": "quantitative", "scale": {"domain": [0, 1]}, "axis": {"orient": "bottom", "offset": -34, "ticks": false, "labels": false, "title": null, "domainWidth": 1, "domainColor": "#1a1a1a"}}}}
   ],
   "resolve": {"scale": {"x": "independent"}, "axis": {"x": "independent", "y": "independent"}}},
  {"width": 522, "height": 428, "data": {"name": "d"},
   "title": {"text": "(d)\u00a0 Radius of gyration of system", "offset": -27, "dx": 47},
   "layer": [
    {"mark": {"type": "line", "strokeWidth": 1.3},
     "encoding": {
      "x": {"field": "t", "type": "quantitative", "scale": {"domain": [0, 1000], "range": [63, 431], "nice": false, "zero": false}, "axis": {"orient": "bottom", "offset": -71, "values": [0,200,400,600,800,1000], "format": "d", "tickSize": -9, "labelPadding": 10, "labelFontSize": 14, "title": "Time (ps)", "titleFontSize": 14, "titlePadding": 0}},
      "y": {"field": "v", "type": "quantitative", "scale": {"domain": [1.8, 2.4], "range": [357, 52], "nice": false, "zero": false}, "axis": {"orient": "left", "offset": -63, "values": [1.8,1.9,2,2.1,2.2,2.3,2.4], "format": "~g", "tickSize": -9, "labelPadding": 14, "labelFontSize": 14, "title": "Rg (nm)", "titleFontSize": 13, "titlePadding": 8}},
      "color": {"field": "s", "type": "nominal", "scale": {"domain": ["Rg","RgX","RgY","RgZ"], "range": ["#111111","#a61e1e","#55cc22","#1c1caa"]}, "legend": {"orient": "none", "legendX": 449, "legendY": 74, "title": null, "strokeColor": "black", "fillColor": "white", "padding": 4, "symbolType": "stroke", "symbolSize": 225, "symbolStrokeWidth": 1.5, "labelFont": "DejaVu Serif", "labelFontSize": 12, "rowPadding": 1, "labelOffset": 10}}}},
    {"mark": {"type": "point", "opacity": 0},
     "encoding": {
      "x": {"field": "t", "type": "quantitative", "scale": {"domain": [0, 1000], "range": [63, 431], "nice": false, "zero": false}, "axis": {"orient": "top", "offset": -52, "values": [0,200,400,600,800,1000], "tickSize": -9, "labels": false, "title": null}},
      "y": {"field": "v", "type": "quantitative", "scale": {"domain": [1.8, 2.4], "range": [357, 52], "nice": false, "zero": false}, "axis": {"orient": "right", "offset": -91, "values": [1.8,1.9,2,2.1,2.2,2.3,2.4], "tickSize": -9, "labels": false, "title": null}}}},
    {"mark": {"type": "point", "opacity": 0},
     "encoding": {
      "x": {"field": "t", "type": "quantitative", "scale": {"domain": [0, 1000], "range": [63, 431], "nice": false, "zero": false}, "axis": {"orient": "bottom", "offset": -71, "values": [100,300,500,700,900], "tickSize": -6, "labels": false, "domain": false, "title": null}},
      "y": {"field": "v", "type": "quantitative", "scale": {"domain": [1.8, 2.4], "range": [357, 52], "nice": false, "zero": false}, "axis": {"orient": "left", "offset": -63, "values": [1.85,1.95,2.05,2.15,2.25,2.35], "tickSize": -6, "labels": false, "domain": false, "title": null}}}},
    {"mark": {"type": "point", "opacity": 0},
     "encoding": {
      "x": {"field": "t", "type": "quantitative", "scale": {"domain": [0, 1000], "range": [63, 431], "nice": false, "zero": false}, "axis": {"orient": "top", "offset": -52, "values": [100,300,500,700,900], "tickSize": -6, "labels": false, "domain": false, "title": null}},
      "y": {"field": "v", "type": "quantitative", "scale": {"domain": [1.8, 2.4], "range": [357, 52], "nice": false, "zero": false}, "axis": {"orient": "right", "offset": -91, "values": [1.85,1.95,2.05,2.15,2.25,2.35], "tickSize": -6, "labels": false, "domain": false, "title": null}}}}
   ],
   "resolve": {"scale": {"x": "independent"}, "axis": {"x": "independent", "y": "independent"}}}
 ]},
 {"spacing": 0, "resolve": {"scale": {"color": "independent"}, "legend": {"color": "independent"}}, "hconcat": [
  {"width": 611, "height": 423, "data": {"name": "e"},
   "title": {"text": ["(e)\u00a0 Crystal Backbone (black) Equilibrated", "\u200b\u00a0\u00a0\u00a0\u00a0\u00a0\u00a0Backbone (red) system RMSD."], "offset": 9, "dx": 49, "lineHeight": 31},
   "layer": [
    {"mark": {"type": "line", "strokeWidth": 1.2},
     "encoding": {
      "x": {"field": "t", "type": "quantitative", "scale": {"domain": [0, 1], "range": [87, 569], "nice": false, "zero": false}, "axis": {"orient": "bottom", "offset": -72, "values": [0,0.2,0.4,0.6,0.8,1], "format": "~g", "tickSize": -9, "labelPadding": 10, "labelFont": "Liberation Serif", "labelFontSize": 14, "title": "Time (ns)", "titleFont": "Liberation Serif", "titleFontSize": 13.5, "titlePadding": 0}},
      "y": {"field": "v", "type": "quantitative", "scale": {"domain": [0, 0.3], "range": [351, 13], "nice": false, "zero": false}, "axis": {"orient": "left", "offset": -87, "values": [0,0.05,0.1,0.15,0.2,0.25], "format": "~g", "tickSize": -9, "labelPadding": 13, "labelFont": "Liberation Serif", "labelFontSize": 14, "title": "RMSD (nm)", "titleFont": "Liberation Serif", "titleFontSize": 13, "titlePadding": 5}},
      "color": {"field": "s", "type": "nominal", "scale": {"domain": ["Crystal Backbone", "Equilibrated Backbone"], "range": ["#1a1a1a", "#e8262a"]}, "legend": {"orient": "none", "legendX": 406, "legendY": 37, "title": null, "strokeColor": "black", "fillColor": "white", "padding": 4, "symbolType": "stroke", "symbolSize": 256, "symbolStrokeWidth": 1.5, "labelFont": "Liberation Serif", "labelFontSize": 13, "rowPadding": 1, "labelOffset": 12}}}},
    {"mark": {"type": "point", "opacity": 0},
     "encoding": {
      "x": {"field": "t", "type": "quantitative", "scale": {"domain": [0, 1], "range": [87, 569], "nice": false, "zero": false}, "axis": {"orient": "top", "offset": -13, "values": [0,0.2,0.4,0.6,0.8,1], "tickSize": -9, "labels": false, "title": null}},
      "y": {"field": "v", "type": "quantitative", "scale": {"domain": [0, 0.3], "range": [351, 13], "nice": false, "zero": false}, "axis": {"orient": "right", "offset": -42, "values": [0,0.05,0.1,0.15,0.2,0.25], "tickSize": -9, "labels": false, "title": null}}}},
    {"mark": {"type": "point", "opacity": 0},
     "encoding": {
      "x": {"field": "t", "type": "quantitative", "scale": {"domain": [0, 1], "range": [87, 569], "nice": false, "zero": false}, "axis": {"orient": "bottom", "offset": -72, "values": [0.1,0.3,0.5,0.7,0.9], "tickSize": -6, "labels": false, "domain": false, "title": null}},
      "y": {"field": "v", "type": "quantitative", "scale": {"domain": [0, 0.3], "range": [351, 13], "nice": false, "zero": false}, "axis": {"orient": "left", "offset": -87, "values": [0.025,0.075,0.125,0.175,0.225,0.275], "tickSize": -6, "labels": false, "domain": false, "title": null}}}},
    {"mark": {"type": "point", "opacity": 0},
     "encoding": {
      "x": {"field": "t", "type": "quantitative", "scale": {"domain": [0, 1], "range": [87, 569], "nice": false, "zero": false}, "axis": {"orient": "top", "offset": -13, "values": [0.1,0.3,0.5,0.7,0.9], "tickSize": -6, "labels": false, "domain": false, "title": null}},
      "y": {"field": "v", "type": "quantitative", "scale": {"domain": [0, 0.3], "range": [351, 13], "nice": false, "zero": false}, "axis": {"orient": "right", "offset": -42, "values": [0.025,0.075,0.125,0.175,0.225,0.275], "tickSize": -6, "labels": false, "domain": false, "title": null}}}}
   ],
   "resolve": {"scale": {"x": "independent"}, "axis": {"x": "independent", "y": "independent"}}},
  {"width": 522, "height": 423, "data": {"name": "f"},
   "title": {"text": "(f)\u00a0 System density", "offset": 9, "dx": 47},
   "layer": [
    {"mark": {"type": "line", "color": "black", "strokeWidth": 1.1},
     "encoding": {
      "x": {"field": "t", "type": "quantitative", "scale": {"domain": [0, 100], "range": [108, 486], "nice": false, "zero": false}, "axis": {"orient": "bottom", "offset": -71, "values": [0,20,40,60,80,100], "tickSize": -9, "labelPadding": 10, "labelFontSize": 14, "title": "Time (ps)", "titleFontSize": 14, "titlePadding": 0}},
      "y": {"field": "v", "type": "quantitative", "scale": {"domain": [1000, 1030], "range": [352, 25], "nice": false, "zero": false}, "axis": {"orient": "left", "offset": -108, "values": [1000,1005,1010,1015,1020,1025,1030], "format": "d", "tickSize": -9, "labelPadding": 14, "labelFontSize": 14, "title": "(kg/m^3)", "titleFontSize": 13, "titlePadding": 9}}}},
    {"mark": {"type": "point", "opacity": 0},
     "encoding": {
      "x": {"field": "t", "type": "quantitative", "scale": {"domain": [0, 100], "range": [108, 486], "nice": false, "zero": false}, "axis": {"orient": "top", "offset": -25, "values": [0,20,40,60,80,100], "tickSize": -9, "labels": false, "title": null}},
      "y": {"field": "v", "type": "quantitative", "scale": {"domain": [1000, 1030], "range": [352, 25], "nice": false, "zero": false}, "axis": {"orient": "right", "offset": -36, "values": [1000,1005,1010,1015,1020,1025,1030], "tickSize": -9, "labels": false, "title": null}}}},
    {"mark": {"type": "point", "opacity": 0},
     "encoding": {
      "x": {"field": "t", "type": "quantitative", "scale": {"domain": [0, 100], "range": [108, 486], "nice": false, "zero": false}, "axis": {"orient": "bottom", "offset": -71, "values": [10,30,50,70,90], "tickSize": -6, "labels": false, "domain": false, "title": null}},
      "y": {"field": "v", "type": "quantitative", "scale": {"domain": [1000, 1030], "range": [352, 25], "nice": false, "zero": false}, "axis": {"orient": "left", "offset": -108, "values": [1002.5,1007.5,1012.5,1017.5,1022.5,1027.5], "tickSize": -6, "labels": false, "domain": false, "title": null}}}},
    {"mark": {"type": "point", "opacity": 0},
     "encoding": {
      "x": {"field": "t", "type": "quantitative", "scale": {"domain": [0, 100], "range": [108, 486], "nice": false, "zero": false}, "axis": {"orient": "top", "offset": -25, "values": [10,30,50,70,90], "tickSize": -6, "labels": false, "domain": false, "title": null}},
      "y": {"field": "v", "type": "quantitative", "scale": {"domain": [1000, 1030], "range": [352, 25], "nice": false, "zero": false}, "axis": {"orient": "right", "offset": -36, "values": [1002.5,1007.5,1012.5,1017.5,1022.5,1027.5], "tickSize": -6, "labels": false, "domain": false, "title": null}}}}
   ],
   "resolve": {"scale": {"x": "independent"}, "axis": {"x": "independent", "y": "independent"}}}
 ]}
]
}
